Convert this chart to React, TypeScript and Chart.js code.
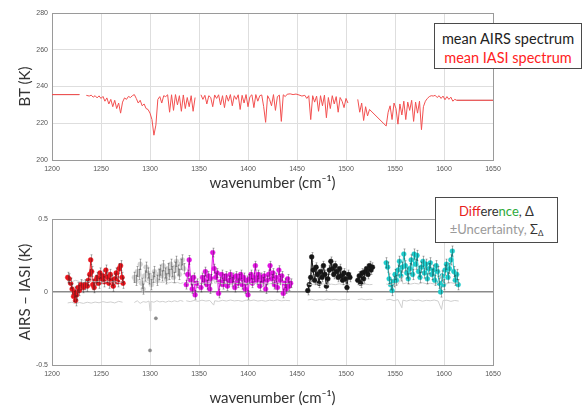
import React, { useEffect, useRef } from "react";
import { Chart, registerables } from "chart.js";

Chart.register(...registerables);

// ---------- axis ticks ----------
const wavenumberTicks = [1200, 1250, 1300, 1350, 1400, 1450, 1500, 1550, 1600, 1650];
const btTicks = [200, 220, 240, 260, 280];
const diffTicks = [-0.5, 0, 0.5];

// ---------- top panel: mean spectra (wavenumber, BT K) ----------
const iasiSpectrum: [number, number | null][] = [
  [1200, 235.6], [1228, 235.6], [1231, null],
  [1235, 235.2], [1238, 234.8], [1240, 235.3], [1242, 234.2], [1244, 235.0], [1246, 233.8], [1248, 234.9],
  [1250, 233.5], [1252, 234.6], [1254, 232.0], [1256, 233.8], [1258, 230.5], [1260, 233.0], [1262, 229.0],
  [1264, 232.5], [1266, 228.0], [1268, 231.0], [1270, 225.5], [1272, 231.5], [1274, 233.8], [1276, 233.0],
  [1278, 234.6], [1280, 234.0], [1282, 235.0], [1284, 235.6], [1286, 233.5], [1288, 231.0], [1290, 232.5],
  [1292, 229.5], [1294, 230.5], [1296, 228.0], [1298, 227.5], [1300, 225.5], [1302, 222.0], [1304, 213.5],
  [1306, 219.0], [1308, 233.0], [1310, 234.5], [1312, 231.0], [1314, 235.0], [1316, 234.5], [1318, 235.5],
  [1320, 226.0], [1322, 235.5], [1324, 227.0], [1326, 235.6], [1328, 230.0], [1330, 235.0], [1332, 226.5],
  [1334, 235.4], [1336, 228.0], [1338, 234.0], [1340, 229.0], [1342, 235.0], [1344, 226.5], [1346, 234.0],
  [1349, null],
  [1352, 235.5], [1354, 233.0], [1356, 235.2], [1358, 230.5], [1360, 235.0], [1362, 234.0], [1364, 229.0],
  [1366, 235.4], [1368, 233.5], [1370, 235.5], [1372, 230.0], [1374, 235.0], [1376, 228.5], [1378, 235.3],
  [1380, 232.0], [1382, 235.6], [1384, 229.5], [1386, 235.0], [1388, 233.0], [1390, 235.5], [1392, 227.5],
  [1394, 235.2], [1396, 231.0], [1398, 235.6], [1400, 229.0], [1402, 234.5], [1404, 235.5], [1406, 228.5],
  [1408, 235.6], [1410, 232.0], [1412, 235.0], [1414, 235.4], [1416, 229.0], [1418, 220.5], [1420, 235.0],
  [1422, 233.0], [1424, 229.5], [1426, 235.6], [1428, 227.0], [1430, 234.5], [1432, 235.3], [1434, 221.0],
  [1436, 235.5], [1438, 234.5], [1440, 235.8], [1443, 236.0], [1446, 235.6], [1449, 235.9], [1452, 235.4],
  [1455, 234.8], [1458, 235.2], [1460, 233.5], [1462, 235.0], [1464, 222.0], [1466, 235.0], [1468, 231.5],
  [1470, 234.8], [1472, 226.5], [1474, 235.0], [1476, 229.5], [1478, 235.3], [1480, 223.0], [1482, 234.0],
  [1484, 228.0], [1486, 235.0], [1488, 230.5], [1490, 234.5], [1492, 226.0], [1494, 234.0], [1496, 232.0],
  [1498, 228.5], [1500, 233.5], [1502, 231.0], [1506, null],
  [1512, 233.0], [1514, 226.0], [1516, 231.0], [1518, 221.5], [1520, 229.0], [1522, 224.0], [1524, 227.5],
  [1541, 218.5], [1543, 226.0], [1545, 229.5], [1547, 222.0], [1549, 231.0], [1551, 228.0], [1553, 219.5],
  [1555, 230.5], [1557, 224.5], [1559, 232.0], [1561, 222.0], [1563, 231.5], [1565, 227.0], [1567, 232.5],
  [1569, 221.0], [1571, 231.5], [1573, 225.5], [1575, 232.0], [1577, 216.5], [1579, 229.0], [1581, 232.0],
  [1583, 233.5], [1585, 234.5], [1587, 235.0], [1589, 234.8], [1591, 235.2], [1593, 234.0], [1595, 235.0],
  [1597, 233.5], [1599, 234.8], [1601, 232.8], [1603, 234.5], [1605, 233.0], [1607, 234.2], [1609, 232.0],
  [1611, 233.0], [1613, 232.5], [1650, 232.5],
];
// AIRS mean spectrum: only its flat (gap-filled) ends show from under the IASI one
const airsSpectrum: [number, number | null][] = [
  [1200, 235.6], [1228, 235.6], [1231, null],
  [1613, 232.5], [1650, 232.5],
];

// ---------- bottom panel: AIRS - IASI differences (wavenumber, K) ----------
const redDiff: [number, number][] = [
  [1216, 0.10], [1217.5, 0.09], [1219, 0.06], [1220.5, 0.02], [1222, -0.03], [1223, 0.0], [1224, -0.06],
  [1225, -0.02], [1226.5, 0.03], [1228, 0.01], [1229.5, 0.05], [1232, 0.03], [1234, 0.05], [1236, 0.04],
  [1237, 0.08], [1238.5, 0.12], [1239.5, 0.22], [1240.5, 0.14], [1241.5, 0.05], [1243, 0.03], [1244.5, 0.08],
  [1246, 0.10], [1247.5, 0.06], [1249, 0.13], [1250.5, 0.09], [1252, 0.11], [1253.5, 0.07], [1255, 0.15],
  [1256.5, 0.10], [1258, 0.06], [1259.5, 0.12], [1261, 0.08], [1262.5, 0.04], [1264, 0.09], [1265.5, 0.13],
  [1267, 0.07], [1268.5, 0.16], [1270, 0.18], [1271.5, 0.10], [1272.5, 0.06],
];
const grayDiff: [number, number][] = [
  [1284, 0.10], [1285.5, 0.08], [1287, 0.14], [1288.5, 0.12], [1290, 0.19], [1291.5, 0.06], [1293, 0.02],
  [1294.5, 0.11], [1296, 0.17], [1297.5, 0.13], [1299, 0.09], [1301.5, 0.05], [1303, 0.10], [1304.5, 0.14],
  [1307.5, 0.08], [1309, 0.12], [1310.5, 0.15], [1312, 0.11], [1313.5, 0.18], [1315, 0.13], [1316.5, 0.09],
  [1318, 0.16], [1319.5, 0.12], [1321, 0.19], [1322.5, 0.14], [1324, 0.10], [1325.5, 0.17], [1327, 0.21],
  [1328.5, 0.15], [1330, 0.12], [1331.5, 0.19], [1333, 0.22], [1334.5, 0.16],
];
const grayOutliers: [number, number][] = [[1300, -0.40], [1306, -0.18]];
const magentaDiff: [number, number][] = [
  [1337, 0.05], [1338.5, 0.12], [1340, 0.22], [1341.5, 0.08], [1343, 0.02], [1344.5, 0.10], [1346, -0.02],
  [1347.5, 0.06], [1352, 0.03], [1353.5, 0.10], [1355, 0.08], [1356.5, 0.14], [1358, 0.05], [1359.5, 0.11],
  [1361, 0.02], [1362.5, 0.09], [1364, 0.27], [1365.5, 0.16], [1367, 0.10], [1368.5, 0.13], [1370, -0.01],
  [1371.5, 0.07], [1373, 0.12], [1374.5, 0.05], [1376, 0.09], [1377.5, 0.11], [1379, 0.04], [1380.5, 0.08],
  [1382, 0.12], [1383.5, 0.07], [1385, 0.10], [1386.5, 0.03], [1388, 0.11], [1389.5, 0.06], [1391, 0.09],
  [1392.5, 0.12], [1394, 0.05], [1395.5, 0.10], [1397, 0.02], [1398.5, 0.08], [1400, -0.02], [1401.5, 0.09],
  [1403, 0.12], [1404.5, 0.06], [1406, 0.10], [1407.5, 0.18], [1409, 0.08], [1410.5, 0.12], [1412, 0.04],
  [1413.5, 0.10], [1415, 0.07], [1416.5, 0.11], [1418, 0.02], [1419.5, 0.08], [1421, 0.12], [1422.5, 0.18],
  [1424, 0.09], [1425.5, 0.13], [1427, 0.05], [1428.5, 0.10], [1430, 0.03], [1431.5, 0.15], [1433, 0.08],
  [1434.5, 0.11], [1436, -0.01], [1437.5, 0.06], [1439, 0.02], [1440.5, 0.09], [1442, 0.04], [1443.5, 0.06],
];
const blackDiff: [number, number | null][] = [
  [1461, 0.01], [1462.5, 0.05], [1464, 0.10], [1465, 0.24], [1466.5, 0.15], [1468, 0.08], [1469.5, 0.17],
  [1471, 0.12], [1472.5, 0.06], [1474, 0.14], [1475.5, 0.10], [1477, 0.18], [1478.5, 0.12], [1480, 0.04],
  [1481.5, 0.09], [1483, 0.15], [1484.5, 0.21], [1486, 0.16], [1487.5, 0.12], [1489, 0.18], [1490.5, 0.14],
  [1492, 0.10], [1493.5, 0.16], [1495, 0.11], [1496.5, 0.08], [1498, 0.13], [1499.5, 0.09], [1501, 0.03],
  [1502.5, 0.12], [1504, 0.10], [1508, null],
  [1512, 0.08], [1513.5, 0.11], [1515, 0.06], [1516.5, 0.13], [1518, 0.09], [1519.5, 0.14], [1521, 0.16],
  [1522.5, 0.12], [1524, 0.18], [1525.5, 0.15], [1527, 0.17],
];
const cyanDiff: [number, number][] = [
  [1541, 0.20], [1542.5, 0.17], [1544, 0.09], [1545.5, 0.05], [1547, 0.01], [1548.5, 0.07], [1550, 0.12],
  [1551.5, 0.08], [1553, 0.15], [1554.5, 0.21], [1556, 0.11], [1557.5, 0.17], [1559, 0.26], [1560.5, 0.18],
  [1562, 0.13], [1563.5, 0.09], [1565, 0.16], [1566.5, 0.22], [1568, 0.12], [1569.5, 0.26], [1571, 0.19],
  [1572.5, 0.25], [1574, 0.14], [1575.5, 0.10], [1577, 0.17], [1578.5, 0.21], [1580, 0.13], [1581.5, 0.19],
  [1583, 0.09], [1584.5, 0.16], [1586, 0.20], [1587.5, 0.12], [1589, 0.15], [1590.5, 0.08], [1592, 0.18],
  [1593.5, 0.14], [1595, 0.06], [1596.5, 0.00], [1598, 0.11], [1599.5, 0.05], [1601, 0.15], [1602.5, 0.19],
  [1604, 0.10], [1605.5, 0.16], [1607, 0.22], [1608.5, 0.28], [1610, 0.14], [1611.5, 0.08], [1613, 0.12],
  [1614.5, 0.05],
];
// error-bar half widths per segment (K): red, gray, magenta, black, cyan, outliers
const segmentSigma = [0.035, 0.035, 0.03, 0.03, 0.035, 0.0];

// ---------- uncertainty curve, Sigma_Delta (wavenumber, K) ----------
const uncertainty: [number, number | null][] = [
  [1216, 0.075], [1220, 0.070], [1224, 0.080], [1228, 0.072], [1232, 0.078], [1236, 0.070], [1240, 0.076],
  [1244, 0.069], [1248, 0.074], [1252, 0.066], [1256, 0.072], [1260, 0.068], [1264, 0.075], [1268, 0.064],
  [1272, 0.070], [1278, null],
  [1284, 0.072], [1287, 0.060], [1290, 0.078], [1293, 0.066], [1296, 0.070], [1299, 0.062], [1300, 0.13],
  [1301, 0.065], [1304, 0.070], [1307, 0.060], [1310, 0.068], [1313, 0.064], [1316, 0.070], [1319, 0.062],
  [1322, 0.067], [1325, 0.060], [1328, 0.066], [1331, 0.058], [1334, 0.064], [1335.5, null],
  [1337, 0.060], [1341, 0.066], [1345, 0.058], [1349, 0.064], [1353, 0.056], [1357, 0.062], [1361, 0.058],
  [1365, 0.090], [1366, 0.060], [1370, 0.064], [1374, 0.057], [1378, 0.062], [1382, 0.055], [1386, 0.061],
  [1390, 0.058], [1394, 0.064], [1398, 0.056], [1402, 0.060], [1406, 0.055], [1410, 0.062], [1414, 0.058],
  [1418, 0.063], [1422, 0.056], [1426, 0.060], [1430, 0.054], [1434, 0.061], [1438, 0.057], [1443, 0.060],
  [1450, null],
  [1461, 0.055], [1465, 0.050], [1469, 0.058], [1473, 0.052], [1477, 0.056], [1481, 0.049], [1485, 0.054],
  [1489, 0.050], [1493, 0.056], [1497, 0.051], [1501, 0.054], [1504, 0.050], [1508, null],
  [1512, 0.052], [1516, 0.048], [1520, 0.054], [1524, 0.050], [1527, 0.052], [1534, null],
  [1541, 0.055], [1545, 0.050], [1549, 0.060], [1553, 0.052], [1557, 0.108], [1558, 0.056], [1562, 0.062],
  [1566, 0.054], [1570, 0.060], [1574, 0.055], [1578, 0.063], [1582, 0.057], [1586, 0.060], [1590, 0.055],
  [1594, 0.062], [1597.5, 0.120], [1599, 0.058], [1603, 0.056], [1607, 0.064], [1611, 0.058], [1615, 0.062],
];

// ---------- styling ----------
const FONT = "Lato, 'Open Sans', sans-serif";
const TICK_FONT = { family: "'Liberation Sans', Arial, sans-serif", size: 7 };
const GRID = "#dedede";
const FRAME = "#9a9a9a";

const toPts = (arr: [number, number | null][]) => arr.map(([x, y]) => ({ x, y }));

const errorBarPlugin = {
  id: "errorBars",
  afterDatasetsDraw(chart: any) {
    const { ctx, chartArea } = chart;
    const xs = chart.scales.x;
    const ys = chart.scales.y;
    ctx.save();
    ctx.beginPath();
    ctx.rect(chartArea.left, chartArea.top, chartArea.width, chartArea.height);
    ctx.clip();
    chart.data.datasets.forEach((ds: any) => {
      if (!ds.errorSigma) return;
      ctx.strokeStyle = ds.errorColor;
      ctx.lineWidth = 1;
      ds.data.forEach((p: any) => {
        if (p.y == null) return;
        const px = Math.round(xs.getPixelForValue(p.x)) + 0.5;
        const y1 = ys.getPixelForValue(p.y - ds.errorSigma);
        const y2 = ys.getPixelForValue(p.y + ds.errorSigma);
        ctx.beginPath();
        ctx.moveTo(px, y1);
        ctx.lineTo(px, y2);
        ctx.moveTo(px - 1, y1);
        ctx.lineTo(px + 1, y1);
        ctx.moveTo(px - 1, y2);
        ctx.lineTo(px + 1, y2);
        ctx.stroke();
      });
    });
    ctx.restore();
  },
};

function xScale(titlePadBottom: number) {
  return {
    type: "linear" as const,
    min: 1200,
    max: 1650,
    afterBuildTicks: (s: any) => {
      s.ticks = wavenumberTicks.map((v) => ({ value: v }));
    },
    afterFit: (s: any) => {
      s.height = s.options._fixedHeight;
    },
    ticks: { font: TICK_FONT, color: "#555", padding: 5, maxRotation: 0, autoSkip: false, callback: (v: any) => String(v) },
    grid: {
      drawTicks: false,
      color: (c: any) => (c.tick && (c.tick.value === 1200 || c.tick.value === 1650) ? FRAME : GRID),
    },
    border: { display: true, color: FRAME },
    title: {
      display: true,
      text: "wavenumber (cm⁻¹)",
      font: { family: FONT, size: 15 },
      color: "#333",
      padding: { top: 0, bottom: titlePadBottom },
    },
  };
}

function TopChart() {
  const ref = useRef<HTMLCanvasElement>(null);
  useEffect(() => {
    const x: any = xScale(3);
    x._fixedHeight = 35;
    const chart = new Chart(ref.current!, {
      type: "line",
      data: {
        datasets: [
          {
            label: "mean IASI spectrum",
            data: toPts(iasiSpectrum),
            borderColor: "#f25050",
            borderWidth: 1,
            pointRadius: 0,
            spanGaps: false,
          },
          {
            label: "mean AIRS spectrum",
            data: toPts(airsSpectrum),
            borderColor: "rgba(120,20,20,0.55)",
            borderWidth: 1,
            pointRadius: 0,
            spanGaps: false,
          },
        ] as any,
      },
      options: {
        animation: false,
        responsive: false,
        maintainAspectRatio: false,
        devicePixelRatio: 1,
        parsing: false,
        layout: { padding: { top: 13, right: 91, left: 0, bottom: 0 } },
        plugins: { legend: { display: false }, tooltip: { enabled: false } },
        scales: {
          x: { ...x, ticks: { ...x.ticks } },
          y: {
            type: "linear",
            min: 200,
            max: 280,
            afterBuildTicks: (s: any) => {
              s.ticks = btTicks.map((v) => ({ value: v }));
            },
            afterFit: (s: any) => {
              s.width = 52;
            },
            ticks: { font: TICK_FONT, color: "#555", padding: 4 },
            grid: {
              drawTicks: false,
              color: (c: any) => (c.tick && (c.tick.value === 200 || c.tick.value === 280) ? FRAME : GRID),
            },
            border: { display: true, color: FRAME },
            title: {
              display: true,
              text: "BT (K)",
              font: { family: FONT, size: 15 },
              color: "#333",
              padding: { top: 16, bottom: 0 },
            },
          },
        },
      } as any,
    });
    return () => chart.destroy();
  }, []);
  return (
    <canvas
      ref={ref}
      width={584}
      height={195}
      style={{ position: "absolute", left: 0, top: 0, width: 584, height: 195 }}
    />
  );
}

function BottomChart() {
  const ref = useRef<HTMLCanvasElement>(null);
  useEffect(() => {
    const x: any = xScale(2);
    x._fixedHeight = 44;
    const seg = (label: string, data: any[], color: string, sigma: number, line = true, radius = 2.4) => ({
      label,
      data: toPts(data),
      borderColor: color,
      backgroundColor: color,
      pointBackgroundColor: color,
      pointBorderColor: color,
      borderWidth: 1,
      pointRadius: radius,
      pointBorderWidth: 0.5,
      showLine: line,
      spanGaps: false,
      errorSigma: sigma,
      errorColor: "rgba(30,30,30,0.35)",
    });
    const chart = new Chart(ref.current!, {
      type: "line",
      data: {
        datasets: [
          {
            label: "+Uncertainty",
            data: uncertainty.map(([u, s]) => ({ x: u, y: s })),
            borderColor: "#cfcfcf",
            borderWidth: 1,
            pointRadius: 0,
            spanGaps: false,
          },
          {
            label: "-Uncertainty",
            data: uncertainty.map(([u, s]) => ({ x: u, y: s == null ? null : -s })),
            borderColor: "#cfcfcf",
            borderWidth: 1,
            pointRadius: 0,
            spanGaps: false,
          },
          seg("Difference 1", redDiff, "#e8141c", segmentSigma[0]),
          seg("Difference 2", grayDiff, "#cfcfcf", segmentSigma[1]),
          seg("Difference 3", magentaDiff, "#e012e0", segmentSigma[2]),
          seg("Difference 4", blackDiff, "#151515", segmentSigma[3]),
          seg("Difference 5", cyanDiff, "#1ccaca", segmentSigma[4]),
          seg("Outliers", grayOutliers, "#8a8a8a", segmentSigma[5], false, 1.6),
        ] as any,
      },
      options: {
        animation: false,
        responsive: false,
        maintainAspectRatio: false,
        devicePixelRatio: 1,
        parsing: false,
        layout: { padding: { top: 19, right: 91, left: 0, bottom: 0 } },
        plugins: { legend: { display: false }, tooltip: { enabled: false } },
        scales: {
          x: { ...x, ticks: { ...x.ticks, padding: 5 } },
          y: {
            type: "linear",
            min: -0.5,
            max: 0.5,
            afterBuildTicks: (s: any) => {
              s.ticks = diffTicks.map((v) => ({ value: v }));
            },
            afterFit: (s: any) => {
              s.width = 52;
            },
            ticks: { font: TICK_FONT, color: "#555", padding: 4, callback: (v: any) => String(v) },
            grid: {
              drawTicks: false,
              lineWidth: (c: any) => (c.tick && c.tick.value === 0 ? 1.5 : 1),
              color: (c: any) => (c.tick && c.tick.value === 0 ? "#8a8a8a" : FRAME),
            },
            border: { display: true, color: FRAME },
            title: {
              display: true,
              text: "AIRS – IASI (K)",
              font: { family: FONT, size: 15 },
              color: "#333",
              padding: { top: 16, bottom: 0 },
            },
          },
        },
      } as any,
      plugins: [errorBarPlugin],
    });
    return () => chart.destroy();
  }, []);
  return (
    <canvas
      ref={ref}
      width={584}
      height={209}
      style={{ position: "absolute", left: 0, top: 200, width: 584, height: 209 }}
    />
  );
}

export default function App() {
  const box: React.CSSProperties = {
    position: "absolute",
    background: "#fff",
    border: "1px solid #4a4a4a",
    boxSizing: "border-box",
    fontFamily: FONT,
    textAlign: "center",
    whiteSpace: "nowrap",
  };
  return (
    <div style={{ position: "fixed", left: 0, top: 0, width: 584, height: 409, background: "#fff", overflow: "hidden" }}>
      <TopChart />
      <BottomChart />
      <div style={{ ...box, left: 434, top: 23, width: 148, height: 46, fontSize: 14.5, lineHeight: "19px", paddingTop: 5 }}>
        <div style={{ color: "#222" }}>mean AIRS spectrum</div>
        <div style={{ color: "#f22" }}>mean IASI spectrum</div>
      </div>
      <div style={{ ...box, left: 435, top: 197, width: 123, height: 46, fontSize: 13, lineHeight: "18px", paddingTop: 4 }}>
        <div>
          <span style={{ color: "#e82020" }}>Diff</span>
          <span style={{ color: "#333" }}>ere</span>
          <span style={{ color: "#2eaa3a" }}>nce</span>
          <span style={{ color: "#333" }}>, Δ</span>
        </div>
        <div style={{ color: "#9a9a9a" }}>
          ±Uncertainty, <span style={{ color: "#333" }}>Σ<sub style={{ fontSize: 8, verticalAlign: "-2px" }}>Δ</sub></span>
        </div>
      </div>
    </div>
  );
}
